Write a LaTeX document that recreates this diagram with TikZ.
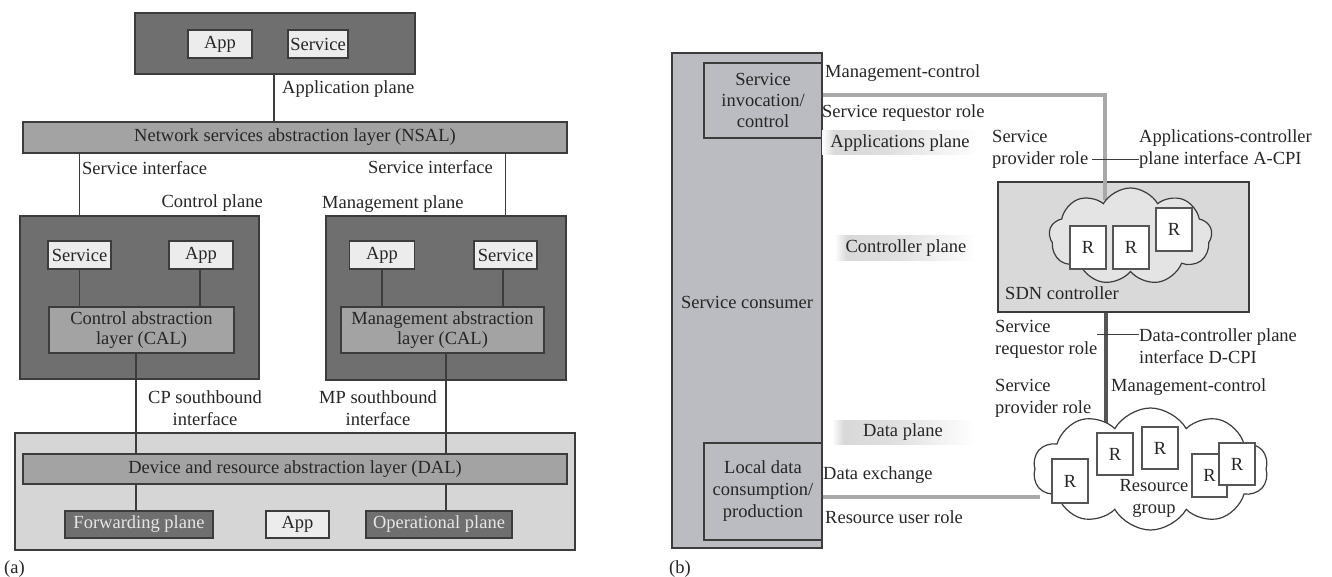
\documentclass[tikz,border=0pt]{standalone}
\usepackage{fontspec}
\setmainfont{Liberation Serif}
\usetikzlibrary{shapes.symbols}

\definecolor{edge}{HTML}{3C3C3C}
\definecolor{txt}{HTML}{262626}
\definecolor{lighttxt}{HTML}{E6E6E6}
\definecolor{darkfill}{HTML}{6F6F6F}
\definecolor{lightfill}{HTML}{ECECEC}
\definecolor{midfill}{HTML}{A3A3A3}
\definecolor{palefill}{HTML}{D6D6D6}
\definecolor{consumerfill}{HTML}{BBBCC1}
\definecolor{sdnfill}{HTML}{D9D9D9}
\definecolor{sdncloud}{HTML}{E4E4E4}
\definecolor{linkgray}{HTML}{A9A9A9}
\definecolor{linkdark}{HTML}{555555}
\definecolor{rbox}{HTML}{555555}

% soft band behind the plane names, fading out towards the right
\pgfdeclarehorizontalshading{planefade}{100bp}{color(0bp)=(white); color(25bp)=(white); color(29bp)=(black!15); color(45bp)=(black!13); color(75bp)=(white); color(100bp)=(white)}

\begin{document}
\begin{tikzpicture}[x=1pt,y=-1pt,
  every node/.style={font=\fontsize{18.5}{22}\selectfont, text=txt},
  box/.style={draw=edge, line width=1.3pt, inner sep=0pt},
  darkbox/.style={box, fill=darkfill},
  lightbox/.style={box, fill=lightfill, minimum height=28},
  layerbox/.style={box, fill=midfill},
  lbl/.style={inner sep=0pt},
  link/.style={draw=edge, line width=1.2pt},
  planelbl/.style={inner sep=0pt, minimum height=24, shading=planefade},
  cloudshape/.style={cloud, cloud puffs=9, cloud puff arc=120, cloud ignores aspect, draw=edge, line width=1.2pt, inner sep=0pt},
  rnode/.style={draw=rbox, line width=1.4pt, fill=white, inner sep=0pt, minimum width=36, minimum height=43},
  grayline/.style={draw=linkgray, line width=4pt},
  darkline/.style={draw=linkdark, line width=4pt}
]
\useasboundingbox[fill=white] (0,0) rectangle (1332,577);

% ---------------- (a) ----------------
% application plane
\node[darkbox, minimum width=280, minimum height=61] (applane) at (275,43.5) {};
\node[lightbox, minimum width=64] (topapp) at (220,44) {App};
\node[lightbox, minimum width=60] (topsvc) at (318,44) {Service};
\node[lbl, anchor=west] (applbl) at (282,89) {Application plane};

% northbound abstraction layer
\node[layerbox, minimum width=544, minimum height=31] (nsal) at (295,137.5) {Network services abstraction layer (NSAL)};

% control plane
\node[darkbox, minimum width=239, minimum height=163] (ctrl) at (139.5,297.5) {};
\node[lightbox, minimum width=63] (ctrlsvc) at (79.5,255) {Service};
\node[lightbox, minimum width=64] (ctrlapp) at (201,255) {App};
\node[layerbox, minimum width=185, minimum height=46, align=center] (cal) at (141.5,330) {Control abstraction\\[-2pt]layer (CAL)};

% management plane
\node[darkbox, minimum width=240, minimum height=164] (mgmt) at (446,298) {};
\node[lightbox, minimum width=65] (mgmtapp) at (382,255) {App};
\node[lightbox, minimum width=63] (mgmtsvc) at (505.5,255) {Service};
\node[layerbox, minimum width=203, minimum height=46, align=center] (mal) at (442.5,330) {Management abstraction\\[-2pt]layer (CAL)};

% interface and plane labels
\node[lbl, anchor=west] (silbl1) at (82,168) {Service interface};
\node[lbl, anchor=east] (silbl2) at (493,167) {Service interface};
\node[lbl, anchor=east] (ctrllbl) at (263,203) {Control plane};
\node[lbl, anchor=west] (mgmtlbl) at (322,204) {Management plane};
\node[lbl, align=center] (cpsb) at (205,408) {CP southbound\\interface};
\node[lbl, align=center] (mpsb) at (378,408) {MP southbound\\interface};

% device layer
\node[box, fill=palefill, minimum width=560, minimum height=117] (dev) at (295,491.5) {};
\node[layerbox, minimum width=544, minimum height=30] (dal) at (295,469) {Device and resource abstraction layer (DAL)};
\node[darkbox, minimum width=148, minimum height=27, text=lighttxt] (fwd) at (139,524.5) {Forwarding plane};
\node[lightbox, minimum width=63, minimum height=27] (devapp) at (297.5,524.5) {App};
\node[darkbox, minimum width=146, minimum height=27, text=lighttxt] (oper) at (439,524.5) {Operational plane};
\node[lbl, anchor=west] (capa) at (4,569) {(a)};

% connectors of (a)
\coordinate (cpx) at (136,0);
\coordinate (mpx) at (446,0);
\draw[link] (applane.south -| 274,0) -- (nsal.north -| 274,0);
\draw[link] (nsal.south -| ctrlsvc) -- (ctrl.north -| ctrlsvc);
\draw[link] (nsal.south -| mgmtsvc) -- (mgmt.north -| mgmtsvc);
\draw[link] (ctrlsvc.south) -- (cal.north -| ctrlsvc);
\draw[link] (ctrlapp.south -| 200,0) -- (cal.north -| 200,0);
\draw[link] (mgmtapp.south) -- (mal.north -| mgmtapp);
\draw[link] (mgmtsvc.south -| 503,0) -- (mal.north -| 503,0);
\draw[link] (cal.south -| cpx) -- (dal.north -| cpx);
\draw[link] (mal.south -| mpx) -- (dal.north -| mpx);
\draw[link] (dal.south -| cpx) -- (fwd.north -| cpx);
\draw[link] (dal.south -| mpx) -- (oper.north -| mpx);

% ---------------- (b) ----------------
\node[box, fill=consumerfill, minimum width=150, minimum height=495] (consumer) at (747,300.5) {};
\node[box, minimum width=118, minimum height=75, align=center] (invoke) at (763,100.5) {Service\\[-1pt]invocation/\\[-1pt]control};
\node[box, minimum width=118, minimum height=97, align=center] (local) at (763,491.5) {Local data\\consumption/\\production};
\node[lbl] (conslbl) at (747,302) {Service consumer};
\node[lbl, anchor=west] (capb) at (669,569) {(b)};

% plane names
\node[planelbl, minimum width=156] (applanelbl) at (900,143) {Applications plane};
\node[planelbl, minimum width=142] (ctrlplanelbl) at (906,248) {Controller plane};
\node[planelbl, minimum width=142] (dataplanelbl) at (903,432) {Data plane};

% SDN controller
\node[box, fill=sdnfill, minimum width=251, minimum height=130] (sdn) at (1123.5,247) {};
\node[lbl, anchor=west] (sdnlbl) at (1005,293) {SDN controller};

% resource group links (drawn below the clouds)
\coordinate (acpiturn) at (1105,95);
\coordinate (sdnin) at (1105,200);
\coordinate (rgtop) at (1106,426);
\coordinate (rgleft) at (1040,497);
\draw[grayline] (consumer.east |- acpiturn) -- (acpiturn) -- (sdnin);
\draw[darkline] (sdn.south -| rgtop) -- (rgtop);
\draw[grayline] (consumer.east |- rgleft) -- (rgleft);

\node[cloudshape, fill=sdncloud, minimum width=163, minimum height=97] (sdncl) at (1130.5,236.5) {};
\node[rnode] (r1) at (1088,247.5) {R};
\node[rnode] (r2) at (1131,247.5) {R};
\node[rnode] (r3) at (1174,229.5) {R};

\node[cloudshape, cloud puffs=10, fill=white, minimum width=235, minimum height=122] (rg) at (1150.5,469) {};
\node[rnode, minimum height=44] (ra) at (1070,481) {R};
\node[rnode, minimum height=42] (rb) at (1115,454) {R};
\node[rnode, minimum height=42] (rc) at (1160,448) {R};
\node[rnode, minimum width=35] (rd) at (1209.5,475.5) {R};
\node[rnode, minimum height=42] (re) at (1237,464) {R};
\node[lbl, align=center] (rglbl) at (1154,498) {Resource\\group};

% role and interface labels
\node[lbl, anchor=west] (mc1) at (825,73) {Management-control};
\node[lbl, anchor=west] (srr1) at (822,113) {Service requestor role};
\node[lbl, anchor=west, align=left] (spr1) at (992,149) {Service\\provider role};
\node[lbl, anchor=west, align=left] (acpi) at (1139,149) {Applications-controller\\plane interface A-CPI};
\node[lbl, anchor=west, align=left] (srr2) at (995,339) {Service\\requestor role};
\node[lbl, anchor=west, align=left] (dcpi) at (1139,346) {Data-controller plane\\interface D-CPI};
\node[lbl, anchor=west, align=left] (spr2) at (995,398) {Service\\provider role};
\node[lbl, anchor=west] (mc2) at (1111,387) {Management-control};
\node[lbl, anchor=west] (dx) at (823,475) {Data exchange};
\node[lbl, anchor=west] (rur) at (825,517) {Resource user role};

% ticks tying the role labels to the interface names
\coordinate (acpiL) at (1092,160);
\coordinate (dcpiL) at (1097,334);
\draw[link, line width=1pt] (acpiL) -- (acpiL -| acpi.west);
\draw[link, line width=1pt] (dcpiL) -- (dcpiL -| dcpi.west);
\end{tikzpicture}
\end{document}
